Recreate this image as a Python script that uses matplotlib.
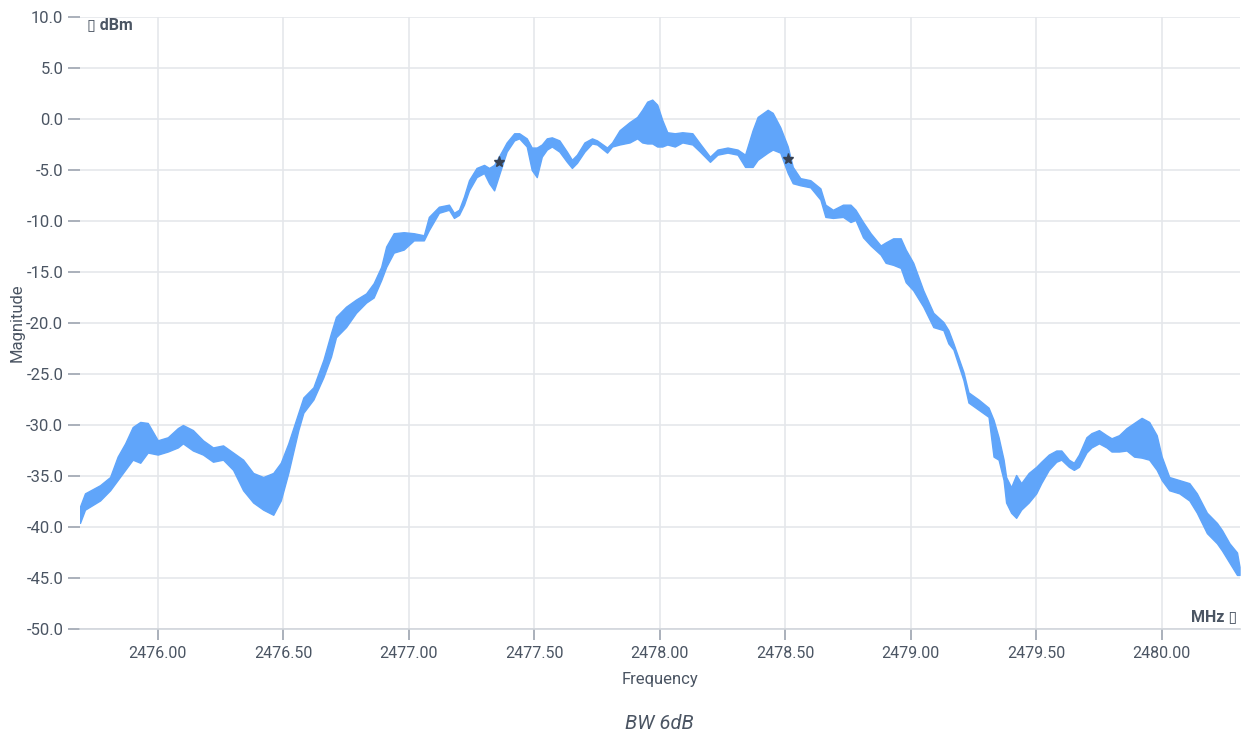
import matplotlib.pyplot as plt

plt.rcParams['font.family'] = ['Roboto', 'DejaVu Sans']

# Spectrum trace: frequency (MHz) with lower / upper edge of the noisy trace (dBm)
freq = [2475.69, 2475.71, 2475.77, 2475.81, 2475.84, 2475.87, 2475.90, 2475.93, 2475.96, 2476.00,
        2476.04, 2476.08, 2476.10, 2476.14, 2476.18, 2476.22, 2476.26, 2476.30, 2476.34, 2476.38,
        2476.42, 2476.46, 2476.49, 2476.52, 2476.56, 2476.58, 2476.62, 2476.66, 2476.69, 2476.71,
        2476.75, 2476.79, 2476.83, 2476.86, 2476.89, 2476.91, 2476.94, 2476.98, 2477.02, 2477.06,
        2477.08, 2477.12, 2477.16, 2477.18, 2477.20, 2477.22, 2477.24, 2477.27, 2477.30, 2477.32,
        2477.34, 2477.37, 2477.39, 2477.42, 2477.44, 2477.47, 2477.49, 2477.51, 2477.53, 2477.55,
        2477.57, 2477.60, 2477.63, 2477.65, 2477.67, 2477.70, 2477.73, 2477.75, 2477.79, 2477.81,
        2477.84, 2477.88, 2477.91, 2477.93, 2477.95, 2477.97, 2477.99, 2478.01, 2478.03, 2478.06,
        2478.09, 2478.13, 2478.16, 2478.20, 2478.23, 2478.27, 2478.31, 2478.34, 2478.37, 2478.39,
        2478.43, 2478.45, 2478.48, 2478.51, 2478.53, 2478.56, 2478.60, 2478.64, 2478.66, 2478.69,
        2478.73, 2478.76, 2478.78, 2478.81, 2478.84, 2478.88, 2478.90, 2478.93, 2478.96, 2478.98,
        2479.01, 2479.05, 2479.09, 2479.13, 2479.15, 2479.17, 2479.21, 2479.23, 2479.27, 2479.31,
        2479.33, 2479.35, 2479.37, 2479.38, 2479.40, 2479.42, 2479.44, 2479.47, 2479.50, 2479.52,
        2479.55, 2479.58, 2479.60, 2479.63, 2479.65, 2479.67, 2479.70, 2479.72, 2479.75, 2479.78,
        2479.80, 2479.83, 2479.86, 2479.89, 2479.92, 2479.95, 2479.98, 2480.00, 2480.03, 2480.07,
        2480.11, 2480.14, 2480.18, 2480.22, 2480.24, 2480.27, 2480.30, 2480.31]

mag_low = [-39.6, -38.3, -37.4, -36.4, -35.4, -34.4, -33.4, -33.7, -32.7, -32.9,
           -32.6, -32.2, -31.8, -32.5, -32.9, -33.6, -33.4, -34.4, -36.4, -37.6,
           -38.3, -38.8, -37.4, -34.7, -30.5, -28.8, -27.5, -25.3, -23.3, -21.4,
           -20.4, -19.0, -18.0, -17.5, -15.8, -14.5, -13.1, -12.8, -11.9, -11.9,
           -10.9, -9.2, -8.9, -9.7, -9.4, -8.4, -7.0, -5.7, -5.3, -6.3,
           -7.0, -4.7, -3.2, -2.1, -1.9, -2.7, -5.0, -5.7, -3.7, -3.0,
           -2.7, -3.2, -4.2, -4.8, -4.3, -3.2, -2.4, -2.5, -3.3, -2.7,
           -2.5, -2.3, -1.9, -2.3, -2.4, -2.4, -2.7, -2.7, -2.5, -2.7,
           -2.3, -2.5, -3.2, -4.2, -3.5, -3.3, -3.5, -4.7, -4.7, -4.0,
           -3.3, -3.0, -3.3, -5.3, -6.3, -6.5, -6.7, -7.9, -9.6, -9.7,
           -9.6, -10.1, -9.9, -11.6, -12.4, -13.3, -14.1, -14.3, -14.6, -16.0,
           -16.8, -18.4, -20.4, -20.7, -22.0, -22.6, -25.6, -27.8, -28.5, -29.2,
           -33.1, -33.4, -35.4, -37.6, -38.6, -39.1, -38.3, -37.6, -36.7, -35.7,
           -34.4, -33.6, -33.4, -34.1, -34.4, -34.1, -32.7, -32.2, -31.8, -32.2,
           -32.6, -32.6, -32.5, -33.1, -33.2, -33.4, -34.4, -35.4, -36.4, -36.7,
           -37.4, -38.6, -40.6, -41.6, -42.3, -43.5, -44.7, -44.7]

mag_high = [-38.0, -36.7, -35.9, -35.1, -33.1, -31.8, -30.2, -29.7, -29.8, -31.5,
            -31.2, -30.3, -30.0, -30.5, -31.5, -32.2, -32.0, -32.7, -33.4, -34.7,
            -35.1, -34.7, -33.7, -31.8, -28.8, -27.3, -26.3, -23.6, -21.0, -19.4,
            -18.4, -17.7, -17.1, -16.1, -14.5, -12.5, -11.2, -11.1, -11.2, -11.4,
            -9.6, -8.6, -8.4, -9.2, -8.9, -7.6, -6.0, -4.8, -4.5, -4.8,
            -4.5, -3.2, -2.3, -1.4, -1.4, -1.9, -2.8, -2.8, -2.5, -1.9,
            -1.8, -2.1, -3.2, -4.0, -3.5, -2.3, -1.9, -2.1, -2.8, -2.3,
            -1.1, -0.3, 0.2, 0.9, 1.7, 1.9, 1.4, -0.1, -1.3, -1.4,
            -1.3, -1.4, -2.4, -3.7, -3.0, -2.8, -3.0, -3.5, -1.1, 0.2,
            0.9, 0.6, -0.8, -2.7, -4.7, -5.8, -6.0, -6.8, -8.4, -8.9,
            -8.4, -8.4, -8.9, -10.1, -11.2, -12.4, -12.1, -11.7, -11.7, -12.8,
            -14.1, -16.8, -19.0, -19.9, -20.7, -22.0, -24.8, -26.8, -27.5, -28.3,
            -29.5, -31.2, -33.4, -35.1, -36.1, -34.9, -35.7, -34.7, -34.1, -33.6,
            -32.9, -32.5, -32.5, -33.4, -33.7, -32.9, -31.2, -30.8, -30.5, -31.0,
            -31.3, -31.0, -30.3, -29.8, -29.3, -29.7, -31.0, -33.1, -35.1, -35.4,
            -35.7, -36.7, -38.6, -39.6, -40.3, -41.6, -42.5, -43.9]

# 6 dB bandwidth markers
marker_freq = [2477.36, 2478.51]
marker_mag = [-4.2, -3.9]

x_ticks = [2476.0, 2476.5, 2477.0, 2477.5, 2478.0, 2478.5, 2479.0, 2479.5, 2480.0]
y_ticks = [10, 5, 0, -5, -10, -15, -20, -25, -30, -35, -40, -45, -50]

trace_color = '#60a5fa'
text_color = '#4b5563'
grid_color = '#e5e7eb'

fig = plt.figure(figsize=(12.42, 7.35), dpi=100)
ax = fig.add_axes([0.0644, 0.1442, 0.9336, 0.8327])

ax.fill_between(freq, mag_low, mag_high, color=trace_color, linewidth=1.0,
                edgecolor=trace_color, zorder=3)
ax.plot(marker_freq, marker_mag, linestyle='none', marker='*', markersize=8,
        color='#374151', zorder=4)

ax.set_xlim(2475.69, 2480.31)
ax.set_ylim(-50, 10)
ax.set_xticks(x_ticks)
ax.set_xticklabels([f'{v:.2f}' for v in x_ticks])
ax.set_yticks(y_ticks)
ax.set_yticklabels([f'{v:.1f}' for v in y_ticks])

ax.grid(True, color=grid_color, linewidth=1.2, zorder=0)
for s in ['top', 'right', 'left']:
    ax.spines[s].set_visible(False)
ax.spines['bottom'].set_color('#d1d5db')
ax.spines['bottom'].set_linewidth(1.2)

ax.tick_params(axis='y', length=9, width=1.2, color='#9ca3af', labelsize=12,
               labelcolor=text_color, pad=3)
ax.tick_params(axis='x', length=8, width=1.2, color='#9ca3af', labelsize=11.5,
               labelcolor=text_color, pad=4)

ax.set_xlabel('Frequency', fontsize=12, color=text_color)
ax.xaxis.set_label_coords(0.5, -0.082)
ax.xaxis.label.set_va('center')
ax.set_ylabel('Magnitude', fontsize=12, color=text_color)
ax.yaxis.set_label_coords(-0.0545, 0.5)
ax.yaxis.label.set_va('center')

ax.text(0.006, 0.987, '\u25af dBm', transform=ax.transAxes, ha='left', va='center',
        fontsize=11.5, fontweight='bold', color=text_color)
ax.text(0.998, 0.0196, 'MHz \u25af', transform=ax.transAxes, ha='right', va='center',
        fontsize=11.5, fontweight='bold', color=text_color)

fig.text(0.531, 0.015, 'BW 6dB', ha='center', va='center', fontsize=14.5,
         style='italic', color=text_color)

fig.savefig('out.png', dpi=100, facecolor='white')
